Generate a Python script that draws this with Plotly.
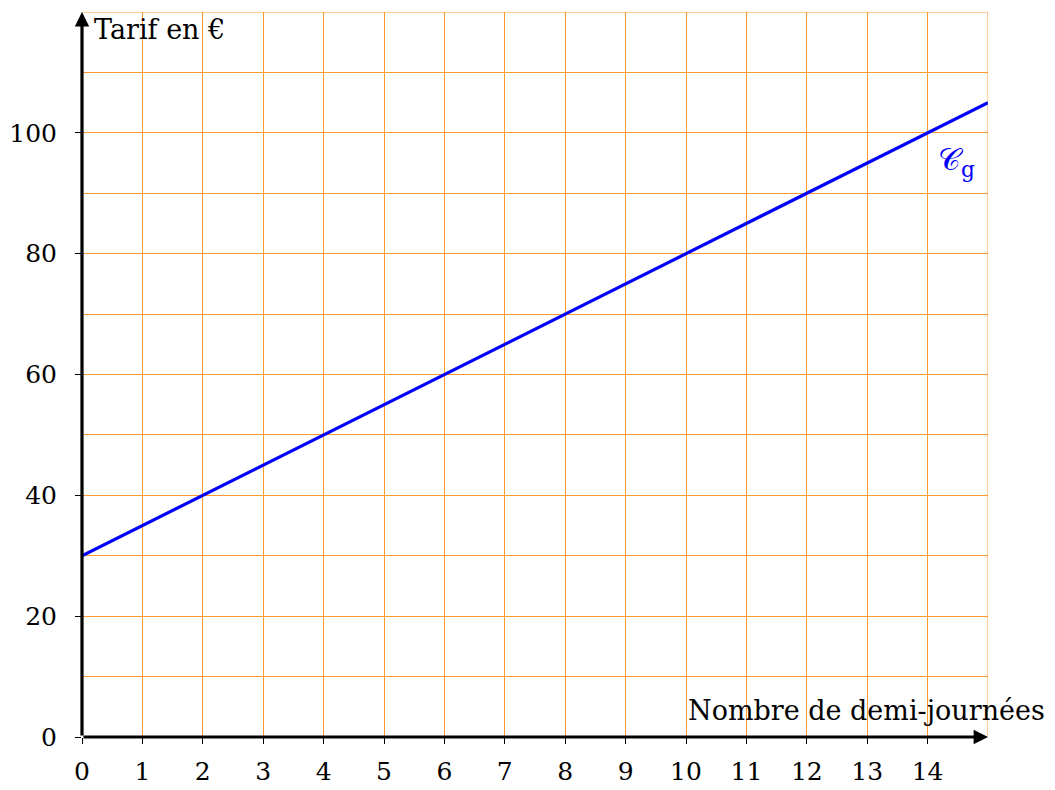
import plotly.graph_objects as go

# Data
days = [0, 2, 4, 6, 8, 10, 12, 14, 15]
tarif = [30, 40, 50, 60, 70, 80, 90, 100, 105]
x_ticks = list(range(0, 15))
y_ticks = [0, 20, 40, 60, 80, 100]

FONT = "DejaVu Serif"
ORANGE = "#FF9B2E"
FS = 27
TFS = 25

fig = go.Figure()
fig.add_trace(go.Scatter(x=days, y=tarif, mode="lines",
                         line=dict(color="#0000FF", width=3.2), showlegend=False,
                         hoverinfo="skip"))

fig.update_layout(
    width=1055, height=790,
    margin=dict(l=74, r=75, t=4, b=61, autoexpand=False),
    plot_bgcolor="white", paper_bgcolor="white",
    font=dict(family=FONT, size=FS, color="black"),
    xaxis=dict(range=[0, 15], tickvals=x_ticks, ticktext=[str(v) for v in x_ticks],
               showgrid=True, gridcolor=ORANGE, gridwidth=1,
               zeroline=False, showline=False, automargin=False,
               ticks="outside", ticklen=6, tickcolor="black", tickwidth=1,
               ticklabelstandoff=6,
               tickfont=dict(family=FONT, size=TFS),
               minor=dict(tickvals=[15], showgrid=True, gridcolor=ORANGE, gridwidth=1)),
    yaxis=dict(range=[0, 120], tickvals=y_ticks, ticktext=[str(v) for v in y_ticks],
               showgrid=True, gridcolor=ORANGE, gridwidth=1,
               zeroline=False, showline=False, automargin=False,
               ticks="outside", ticklen=6, tickcolor="black", tickwidth=1,
               ticklabelstandoff=13,
               tickfont=dict(family=FONT, size=TFS),
               minor=dict(dtick=10, showgrid=True, gridcolor=ORANGE, gridwidth=1)),
)

# top/right grid edges
fig.add_shape(type="line", xref="x", yref="y", x0=0, x1=15, y0=120, y1=120,
              line=dict(color=ORANGE, width=1), layer="below")
fig.add_shape(type="line", xref="x", yref="y", x0=15, x1=15, y0=0, y1=120,
              line=dict(color=ORANGE, width=1), layer="below")

# axes with arrows
fig.add_annotation(x=15, y=0, ax=0, ay=0, xref="x", yref="y", axref="x", ayref="y",
                   showarrow=True, arrowhead=2, arrowsize=0.9, arrowwidth=3.2,
                   arrowcolor="black", text="")
fig.add_annotation(x=0, y=120, ax=0, ay=0, xref="x", yref="y", axref="x", ayref="y",
                   showarrow=True, arrowhead=2, arrowsize=0.9, arrowwidth=3.2,
                   arrowcolor="black", text="")

fig.add_annotation(x=0.011, y=1.0, xref="paper", yref="paper", xanchor="left", yanchor="top",
                   text="Tarif en €", showarrow=False,
                   font=dict(family=FONT, size=FS, color="black"))
fig.add_annotation(x=1.065, y=0.012, xref="paper", yref="paper", xanchor="right", yanchor="bottom",
                   text="Nombre de demi-journées", showarrow=False,
                   font=dict(family=FONT, size=FS, color="black"))
fig.add_annotation(x=0.965, y=0.825, xref="paper", yref="paper", xanchor="center", yanchor="top",
                   text="𝒞<sub>g</sub>", showarrow=False,
                   font=dict(family=FONT, size=31, color="#0000FF"))

fig.write_html("out.html")
